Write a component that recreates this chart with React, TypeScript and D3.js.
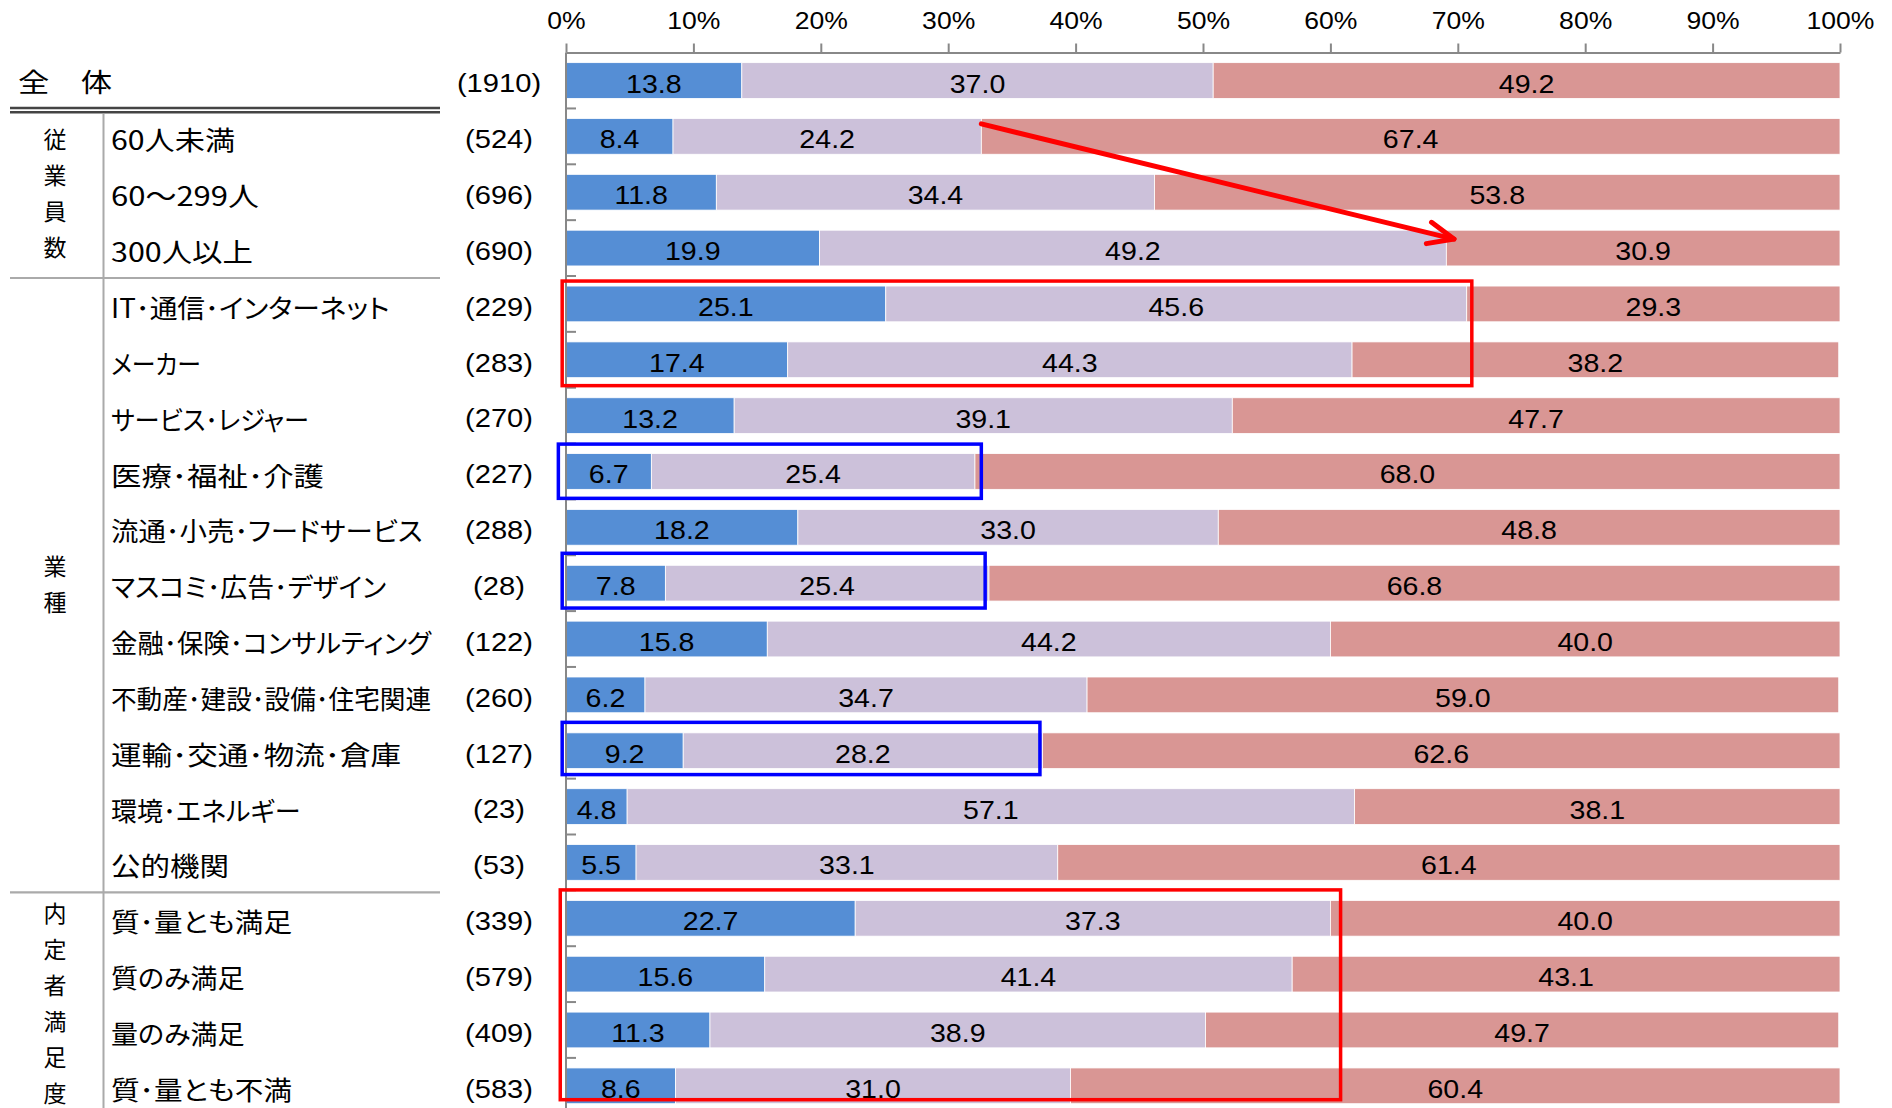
import { useEffect, useRef } from 'react';
import * as d3 from 'd3';

const categories = [
  '全　体',
  '60人未満',
  '60～299人',
  '300人以上',
  'IT･通信･インターネット',
  'メーカー',
  'サービス･レジャー',
  '医療･福祉･介護',
  '流通･小売･フードサービス',
  'マスコミ･広告･デザイン',
  '金融･保険･コンサルティング',
  '不動産･建設･設備･住宅関連',
  '運輸･交通･物流･倉庫',
  '環境･エネルギー',
  '公的機関',
  '質･量とも満足',
  '質のみ満足',
  '量のみ満足',
  '質･量とも不満',
];

const counts = [1910, 524, 696, 690, 229, 283, 270, 227, 288, 28, 122, 260, 127, 23, 53, 339, 579, 409, 583];

const seriesBlue = [13.8, 8.4, 11.8, 19.9, 25.1, 17.4, 13.2, 6.7, 18.2, 7.8, 15.8, 6.2, 9.2, 4.8, 5.5, 22.7, 15.6, 11.3, 8.6];
const seriesLavender = [37.0, 24.2, 34.4, 49.2, 45.6, 44.3, 39.1, 25.4, 33.0, 25.4, 44.2, 34.7, 28.2, 57.1, 33.1, 37.3, 41.4, 38.9, 31.0];
const seriesPink = [49.2, 67.4, 53.8, 30.9, 29.3, 38.2, 47.7, 68.0, 48.8, 66.8, 40.0, 59.0, 62.6, 38.1, 61.4, 40.0, 43.1, 49.7, 60.4];

const tickValues = [0, 10, 20, 30, 40, 50, 60, 70, 80, 90, 100];

// row groups shown as vertical text on the far left
const groups = [
  { name: '従業員数', from: 1, to: 3 },
  { name: '業種', from: 4, to: 14 },
  { name: '内定者満足度', from: 15, to: 18 },
];

// highlight boxes (percent extents, row ranges)
const boxes = [
  { color: '#ff0000', from: 4, to: 5, x0: -0.3, x1: 71.1, padTop: 5, padBottom: 8 },
  { color: '#0000ff', from: 7, to: 7, x0: -0.6, x1: 32.6, padTop: 9.5, padBottom: 9 },
  { color: '#0000ff', from: 9, to: 9, x0: -0.3, x1: 32.9, padTop: 12, padBottom: 7 },
  { color: '#0000ff', from: 12, to: 12, x0: -0.3, x1: 37.2, padTop: 10.5, padBottom: 6 },
  { color: '#ff0000', from: 15, to: 18, x0: -0.45, x1: 60.8, padTop: 10.5, padBottom: -4 },
];

const arrowFrom = { pct: 32.6, row: 1, dy: -12.5 };
const arrowTo = { pct: 69.7, row: 3, dy: -9 };

// the source picture is a little wider than tall, so text is stretched sideways
const STRETCH = 1.12;

// rough advance widths of the original label font, by character class
function labelWidth(s: string) {
  let w = 0;
  for (const ch of s) {
    if (ch === '･') w += 18;
    else if (/[0-9]/.test(ch)) w += 17.8;
    else if (ch === 'I') w += 9;
    else if (/[A-Z]/.test(ch)) w += 17;
    else if (/[\u3040-\u30ff]/.test(ch)) w += 22.5;
    else w += 29.5;
  }
  return Math.min(w, 320);
}

function stretchText(sel: any, k: number) {
  sel.each(function (this: SVGTextElement) {
    const w = this.getComputedTextLength();
    if (w > 0) {
      this.setAttribute('textLength', String(w * k));
      this.setAttribute('lengthAdjust', 'spacingAndGlyphs');
    }
  });
}

export default function App() {
  const svgRef = useRef<SVGSVGElement>(null);

  useEffect(() => {
    if (!svgRef.current) return;
    const width = 1892;
    const height = 1108;
    const jp = '"Noto Sans CJK JP", sans-serif';
    const num = '"Liberation Sans", Arial, sans-serif';

    const svg = d3.select(svgRef.current)
      .attr('width', width)
      .attr('height', height);
    svg.selectAll('*').remove();

    svg.append('rect').attr('width', width).attr('height', height).attr('fill', '#fff');

    const x = d3.scaleLinear().domain([0, 100]).range([566, 1840]);
    const xc = x.copy().clamp(true);
    const y = d3.scaleBand<number>()
      .domain(d3.range(categories.length))
      .range([52.6, 52.6 + 55.85 * categories.length])
      .paddingInner(0.36)
      .paddingOuter(0.18);
    const bw = y.bandwidth();
    const step = y.step();
    const yc = (i: number) => y(i)! + bw / 2;
    const boundary = (i: number) => y(i)! - (step - bw) / 2;

    const table = categories.map((c, i) => ({
      i,
      blue: seriesBlue[i],
      lav: seriesLavender[i],
      pink: seriesPink[i],
    }));
    const keys = ['blue', 'lav', 'pink'];
    const colors: Record<string, string> = { blue: '#558ED5', lav: '#CCC1DA', pink: '#D99694' };
    const stack = d3.stack<any>().keys(keys)(table);

    // bars
    const layers = svg.append('g')
      .selectAll('g')
      .data(stack)
      .join('g')
      .attr('fill', d => colors[d.key]);

    layers.selectAll('rect')
      .data(d => d)
      .join('rect')
      .attr('x', d => xc(d[0]))
      .attr('width', d => xc(d[1]) - xc(d[0]))
      .attr('y', d => y(d.data.i)!)
      .attr('height', bw)
      .attr('stroke', '#fff')
      .attr('stroke-width', 0.8);

    // value labels
    const labelG = svg.append('g')
      .style('font-family', num)
      .style('font-size', '25.5px')
      .attr('fill', '#000');
    stack.forEach(layer => {
      const t = labelG.selectAll(null)
        .data(layer)
        .join('text')
        .attr('x', d => x((d[0] + Math.min(d[1], 100)) / 2))
        .attr('y', d => yc(d.data.i) + 2.8)
        .attr('dy', '0.36em')
        .attr('text-anchor', 'middle')
        .text(d => (d[1] - d[0]).toFixed(1));
      stretchText(t, STRETCH);
    });

    // top axis
    const axis = svg.append('g')
      .attr('transform', 'translate(0,52.5)')
      .call(d3.axisTop(x).tickValues(tickValues).tickFormat(d => `${d}%`).tickSize(9).tickSizeOuter(0).tickPadding(15));
    axis.select('.domain').attr('stroke', '#888').attr('stroke-width', 2);
    axis.selectAll('.tick line').attr('stroke', '#888').attr('stroke-width', 2);
    const tickText = axis.selectAll('.tick text')
      .attr('fill', '#000')
      .style('font-family', num)
      .style('font-size', '23.5px');
    stretchText(tickText, 1.13);

    // left axis line with small ticks between rows
    svg.append('line')
      .attr('x1', x(0)).attr('x2', x(0))
      .attr('y1', 52.5).attr('y2', height)
      .attr('stroke', '#888').attr('stroke-width', 2);
    svg.append('g')
      .selectAll('line')
      .data(d3.range(1, categories.length))
      .join('line')
      .attr('x1', x(0)).attr('x2', x(0) + 10)
      .attr('y1', i => boundary(i))
      .attr('y2', i => boundary(i))
      .attr('stroke', '#888').attr('stroke-width', 2);

    // table rules on the left
    const rules = svg.append('g');
    rules.append('line')
      .attr('x1', 10).attr('x2', 440)
      .attr('y1', boundary(1) - 0.5).attr('y2', boundary(1) - 0.5)
      .attr('stroke', '#444').attr('stroke-width', 2.6);
    rules.append('line')
      .attr('x1', 10).attr('x2', 440)
      .attr('y1', boundary(1) + 3.8).attr('y2', boundary(1) + 3.8)
      .attr('stroke', '#444').attr('stroke-width', 2.6);
    rules.append('line')
      .attr('x1', 103.5).attr('x2', 103.5)
      .attr('y1', boundary(1) + 5.5).attr('y2', height)
      .attr('stroke', '#aaa').attr('stroke-width', 2);
    rules.selectAll(null)
      .data(groups.slice(1))
      .join('line')
      .attr('x1', 10).attr('x2', 440)
      .attr('y1', d => boundary(d.from) + 2)
      .attr('y2', d => boundary(d.from) + 2)
      .attr('stroke', '#aaa').attr('stroke-width', 2.2);

    // category labels
    svg.append('g')
      .selectAll('text')
      .data(categories)
      .join('text')
      .attr('x', (d, i) => (i === 0 ? 18 : 111))
      .attr('y', (d, i) => yc(i) + (i === 0 ? 1.5 : 4))
      .attr('dy', '0.38em')
      .attr('fill', '#000')
      .attr('textLength', (d, i) => (i === 0 ? 94 : labelWidth(d)))
      .attr('lengthAdjust', 'spacingAndGlyphs')
      .style('font-family', jp)
      .style('font-feature-settings', '"palt"')
      .style('font-size', '26.5px')
      .text(d => d);

    // n counts
    const countText = svg.append('g')
      .selectAll('text')
      .data(counts)
      .join('text')
      .attr('x', 499)
      .attr('y', (d, i) => yc(i) + 2.5)
      .attr('dy', '0.36em')
      .attr('text-anchor', 'middle')
      .attr('fill', '#000')
      .style('font-family', num)
      .style('font-size', '26px')
      .text(d => `(${d})`);
    stretchText(countText, STRETCH);

    // vertical group names
    groups.forEach(g => {
      const chars = Array.from(g.name);
      const mid = (yc(g.from) + yc(g.to)) / 2 + 1.5;
      svg.append('g')
        .selectAll('text')
        .data(chars)
        .join('text')
        .attr('x', 55)
        .attr('y', (d, k) => mid + (k - (chars.length - 1) / 2) * 36)
        .attr('dy', '0.38em')
        .attr('text-anchor', 'middle')
        .attr('fill', '#000')
        .style('font-family', jp)
        .style('font-size', '23px')
        .text(d => d);
    });

    // highlight boxes
    svg.append('g')
      .selectAll('rect')
      .data(boxes)
      .join('rect')
      .attr('x', d => x(d.x0))
      .attr('y', d => y(d.from)! - d.padTop)
      .attr('width', d => x(d.x1) - x(d.x0))
      .attr('height', d => y(d.to)! + bw + d.padBottom - (y(d.from)! - d.padTop))
      .attr('fill', 'none')
      .attr('stroke', d => d.color)
      .attr('stroke-width', 3.5);

    // red arrow
    const ax0 = x(arrowFrom.pct);
    const ay0 = yc(arrowFrom.row) + arrowFrom.dy;
    const ax1 = x(arrowTo.pct);
    const ay1 = yc(arrowTo.row) + arrowTo.dy;
    const ang = Math.atan2(ay1 - ay0, ax1 - ax0);
    const head = 28;
    const spread = (23 * Math.PI) / 180;
    const arm = (s: number) => [ax1 - head * Math.cos(ang + s), ay1 - head * Math.sin(ang + s)];
    const [ux, uy] = arm(spread);
    const [lx, ly] = arm(-spread);
    const arrow = svg.append('g')
      .attr('stroke', '#ff0000')
      .attr('stroke-width', 5)
      .attr('fill', 'none')
      .attr('stroke-linecap', 'round')
      .attr('stroke-linejoin', 'round');
    arrow.append('line').attr('x1', ax0).attr('y1', ay0).attr('x2', ax1).attr('y2', ay1);
    arrow.append('path').attr('d', `M${ux},${uy}L${ax1},${ay1}L${lx},${ly}`);
  }, []);

  return (
    <div style={{ position: 'absolute', left: 0, top: 0, width: 1892, height: 1108, background: '#fff' }}>
      <svg ref={svgRef} style={{ display: 'block' }} />
    </div>
  );
}
